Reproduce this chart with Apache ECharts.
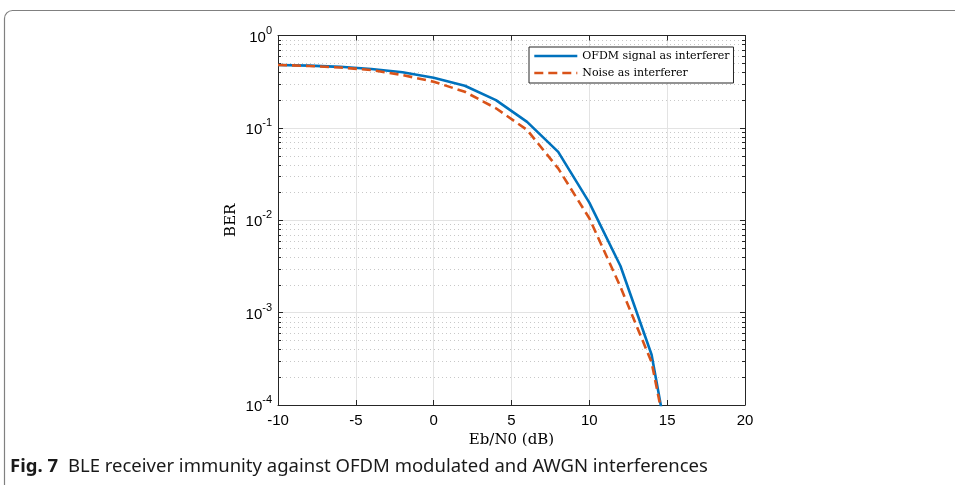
<!DOCTYPE html>
<html><head><meta charset="utf-8">
<script src="https://cdn.jsdelivr.net/npm/echarts@6/dist/echarts.min.js"></script>
<style>html,body{margin:0;padding:0;background:#fff}#c{width:955px;height:485px}</style>
</head><body><div id="c"></div>
<script>
// Data
const ebn0 = [-10, -8, -6, -4, -2, 0, 2, 4, 6, 8, 10, 12, 14, 16];
const berOfdm = [0.48, 0.472, 0.458, 0.434, 0.400, 0.349, 0.286, 0.200, 0.116, 0.055, 0.0155, 0.0032, 0.00035, 0.000005];
const berNoise = [0.48, 0.468, 0.450, 0.423, 0.373, 0.316, 0.246, 0.163, 0.095, 0.0364, 0.0105, 0.0019, 0.00029, 0.000006];
const seriesNames = ['OFDM signal as interferer', 'Noise as interferer'];
const xTickLabels = ['-10', '-5', '0', '5', '10', '15', '20'];
const yMinorTicks = [2e-4,3e-4,4e-4,5e-4,6e-4,7e-4,8e-4,9e-4,
                     2e-3,3e-3,4e-3,5e-3,6e-3,7e-3,8e-3,9e-3,
                     2e-2,3e-2,4e-2,5e-2,6e-2,7e-2,8e-2,9e-2,
                     2e-1,3e-1,4e-1,5e-1,6e-1,7e-1,8e-1,9e-1];
const caption = ['Fig. 7', 'BLE receiver immunity against OFDM modulated and AWGN interferences'];

const chart = echarts.init(document.getElementById('c'), null, {renderer: 'canvas'});
const axisColor = '#262626';
const tickFont = 'Liberation Sans';
const serif = 'DejaVu Serif';

function supLabel(v) {
  const e = Math.round(Math.log10(v));
  return '{b|10}{s|' + e + '}';
}

const option = {
  backgroundColor: '#fff',
  animation: false,
  grid: {left: 278, right: 210, top: 35.5, bottom: 80, containLabel: false},
  legend: {
    orient: 'vertical', left: 529, top: 47,
    padding: [3, 4, 4, 4], itemGap: 5,
    itemWidth: 43, itemHeight: 12,
    backgroundColor: '#fff', borderColor: '#262626', borderWidth: 1, borderRadius: 0,
    itemStyle: {opacity: 0},
    lineStyle: {width: 2.6},
    textStyle: {fontFamily: serif, fontSize: 11, color: '#000', lineHeight: 12},
    data: seriesNames
  },
  xAxis: [{
    type: 'value', min: -10, max: 20, interval: 5, position: 'bottom',
    name: 'Eb/N0 (dB)', nameLocation: 'middle', nameGap: 21,
    nameTextStyle: {fontFamily: serif, fontSize: 15, color: '#000'},
    axisLine: {show: true, onZero: false, lineStyle: {color: axisColor, width: 1}},
    axisTick: {show: true, inside: true, length: 5, lineStyle: {color: axisColor}},
    axisLabel: {fontFamily: tickFont, fontSize: 15, color: '#000', margin: 8,
      formatter: function (v) { return xTickLabels[Math.round((v + 10) / 5)]; }},
    splitLine: {show: true, lineStyle: {color: '#e3e3e3', width: 1}}
  }, {
    type: 'value', min: -10, max: 20, interval: 5, position: 'top',
    axisLine: {show: true, onZero: false, lineStyle: {color: axisColor, width: 1}},
    axisTick: {show: true, inside: true, length: 5, lineStyle: {color: axisColor}},
    axisLabel: {show: false}, splitLine: {show: false}
  }],
  yAxis: [{
    type: 'log', logBase: 10, min: 1e-4, max: 1, position: 'left',
    name: 'BER', nameLocation: 'middle', nameGap: 39, nameRotate: 90,
    nameTextStyle: {fontFamily: serif, fontSize: 15, color: '#000'},
    axisLine: {show: true, onZero: false, lineStyle: {color: axisColor, width: 1}},
    axisTick: {show: true, inside: true, length: 5, lineStyle: {color: axisColor}},
    axisLabel: {margin: 6, formatter: supLabel, color: '#000',
      rich: {
        b: {fontFamily: tickFont, fontSize: 15, color: '#000', padding: [4, 0, 0, 0]},
        s: {fontFamily: tickFont, fontSize: 11, color: '#000', padding: [0, 0, 10, 0]}
      }},
    splitLine: {show: true, lineStyle: {color: '#e3e3e3', width: 1}}
  }, {
    type: 'log', logBase: 10, min: 1e-4, max: 1, position: 'right',
    axisLine: {show: true, onZero: false, lineStyle: {color: axisColor, width: 1}},
    axisTick: {show: true, inside: true, length: 5, lineStyle: {color: axisColor}},
    axisLabel: {show: false}, splitLine: {show: false}
  }],
  series: [{
    type: 'custom', name: 'minor', xAxisIndex: 0, yAxisIndex: 0, z: 1, silent: true,
    data: yMinorTicks.map(function (v) { return [-10, v]; }),
    encode: {x: 0, y: 1},
    renderItem: function (params, api) {
      const cs = params.coordSys;
      const y = Math.round(api.coord([-10, api.value(1)])[1]) + 0.5;
      const l = cs.x, r = cs.x + cs.width;
      return {type: 'group', children: [
        {type: 'line', shape: {x1: l, y1: y, x2: r, y2: y},
          style: {stroke: '#c8c8c8', lineWidth: 1, lineDash: [1, 3]}},
        {type: 'line', shape: {x1: l, y1: y, x2: l + 3, y2: y},
          style: {stroke: axisColor, lineWidth: 1}},
        {type: 'line', shape: {x1: r - 3, y1: y, x2: r, y2: y},
          style: {stroke: axisColor, lineWidth: 1}}
      ]};
    }
  }, {
    type: 'line', name: seriesNames[0], xAxisIndex: 0, yAxisIndex: 0, z: 3,
    data: ebn0.map(function (x, i) { return [x, berOfdm[i]]; }),
    symbol: 'none', clip: true,
    lineStyle: {color: '#0072BD', width: 2.6, type: 'solid'},
    itemStyle: {color: '#0072BD'}
  }, {
    type: 'line', name: seriesNames[1], xAxisIndex: 0, yAxisIndex: 0, z: 4,
    data: ebn0.map(function (x, i) { return [x, berNoise[i]]; }),
    symbol: 'none', clip: true,
    lineStyle: {color: '#D95319', width: 2.6, type: [9, 5]},
    itemStyle: {color: '#D95319'}
  }],
  graphic: [{
    type: 'rect', silent: true,
    shape: {x: 4.5, y: 10.5, width: 1000, height: 520, r: 8},
    style: {fill: 'none', stroke: '#808080', lineWidth: 1.2}, z: 0
  }, {
    type: 'text', x: 10, y: 467,
    style: {
      text: '{b|' + caption[0] + '}   {r|' + caption[1] + '}',
      verticalAlign: 'middle',
      rich: {
        b: {fontFamily: 'Noto Sans', fontWeight: 'bold', fontSize: 18.5, fill: '#1a1a1a'},
        r: {fontFamily: 'Noto Sans', fontSize: 18.5, fill: '#1a1a1a'}
      }
    }
  }]
};
chart.setOption(option);
</script>
</body></html>
